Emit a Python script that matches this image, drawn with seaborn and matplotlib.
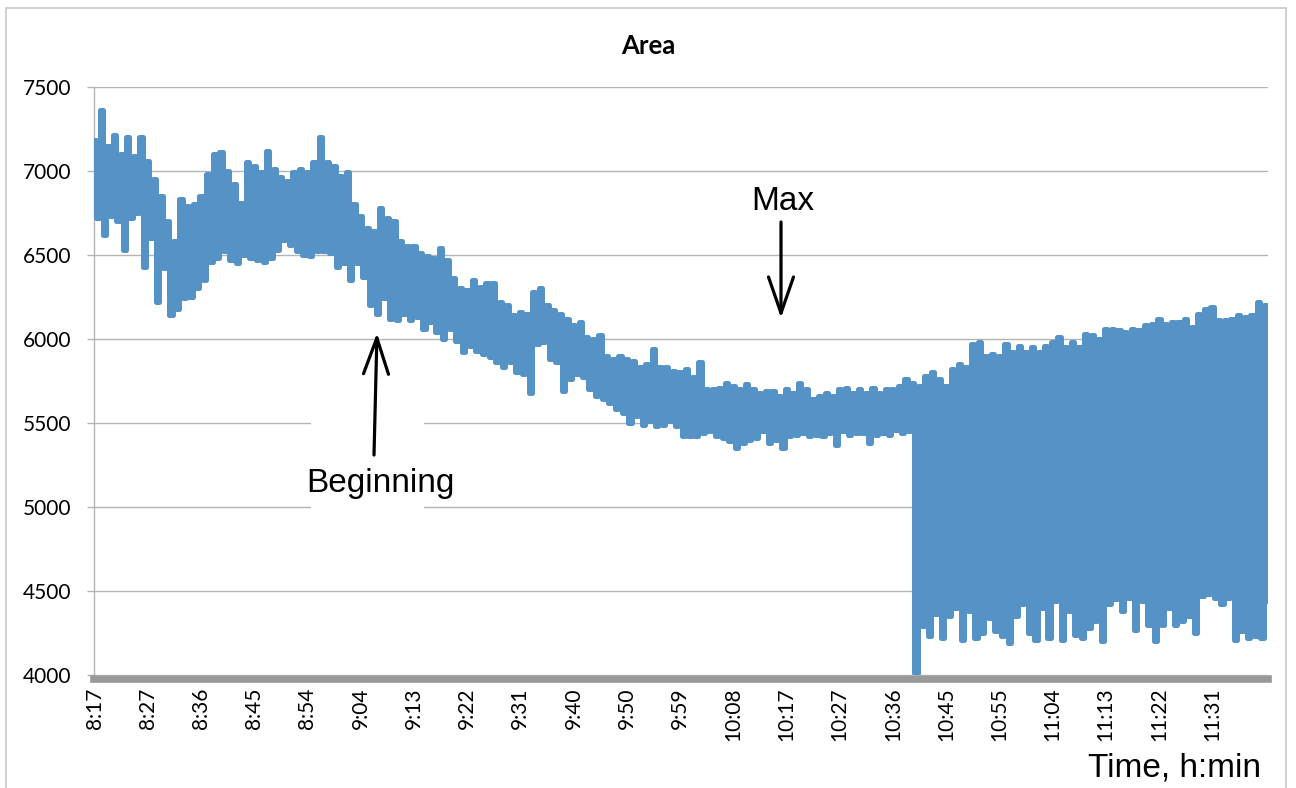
import numpy as np
import pandas as pd
import matplotlib.pyplot as plt
import seaborn as sns
from matplotlib.patches import Rectangle

# tick labels along the category axis (one every ~9 min)
tick_labels = ['8:17', '8:27', '8:36', '8:45', '8:54', '9:04', '9:13', '9:22', '9:31', '9:40', '9:50',
               '9:59', '10:08', '10:17', '10:27', '10:36', '10:45', '10:55', '11:04', '11:13', '11:22', '11:31']
samples_per_label = 8

# upper peaks of the oscillating signal
area_high = [7180, 7360, 7150, 7210, 7100, 7200, 7090, 7200,
             7060, 6950, 6850, 6700, 6580, 6830, 6790, 6800,
             6850, 6980, 7100, 7110, 7000, 6920, 6810, 7050,
             7030, 6990, 7120, 7010, 6960, 6940, 6990, 7010,
             6990, 7050, 7200, 7050, 7030, 6970, 6990, 6800,
             6730, 6660, 6640, 6780, 6720, 6700, 6580, 6550,
             6550, 6510, 6490, 6480, 6540, 6470, 6360, 6300,
             6290, 6350, 6310, 6330, 6330, 6220, 6200, 6140,
             6160, 6150, 6280, 6300, 6200, 6170, 6150, 6120,
             6080, 6100, 6010, 6000, 6020, 5900, 5880, 5900,
             5880, 5870, 5830, 5850, 5940, 5830, 5830, 5810,
             5800, 5820, 5770, 5860, 5700, 5700, 5710, 5740,
             5720, 5700, 5730, 5700, 5680, 5690, 5690, 5660,
             5700, 5680, 5740, 5700, 5640, 5660, 5680, 5660,
             5700, 5710, 5680, 5700, 5680, 5710, 5680, 5700,
             5700, 5720, 5760, 5740, 5720, 5780, 5800, 5760,
             5720, 5820, 5850, 5830, 5970, 5980, 5900, 5910,
             5900, 5970, 5920, 5960, 5920, 5950, 5920, 5960,
             5980, 6010, 5950, 5980, 5950, 6030, 6020, 6000,
             6060, 6060, 6050, 6040, 6060, 6050, 6080, 6090,
             6120, 6090, 6100, 6100, 6120, 6070, 6150, 6180,
             6190, 6110, 6110, 6120, 6140, 6130, 6140, 6220, 6200]

# lower troughs of the signal
area_low = [6720, 6620, 6730, 6700, 6530, 6720, 6750, 6430,
            6600, 6220, 6420, 6140, 6180, 6240, 6250, 6300,
            6350, 6460, 6480, 6520, 6470, 6450, 6500, 6480,
            6470, 6460, 6480, 6530, 6590, 6560, 6520, 6500,
            6490, 6520, 6520, 6510, 6430, 6450, 6350, 6450,
            6370, 6200, 6150, 6240, 6120, 6110, 6150, 6110,
            6130, 6060, 6100, 6040, 6000, 6060, 5990, 5920,
            5960, 5930, 5910, 5890, 5860, 5830, 5860, 5800,
            5790, 5680, 5970, 5980, 5880, 5860, 5690, 5760,
            5790, 5770, 5700, 5660, 5640, 5620, 5580, 5560,
            5500, 5540, 5490, 5510, 5480, 5490, 5510, 5480,
            5420, 5420, 5420, 5440, 5450, 5420, 5410, 5390,
            5350, 5380, 5400, 5410, 5450, 5380, 5400, 5350,
            5420, 5430, 5440, 5420, 5430, 5420, 5440, 5370,
            5450, 5430, 5440, 5440, 5380, 5430, 5440, 5430,
            5460, 5440, 5450, 4010, 4290, 4230, 4360, 4220,
            4350, 4400, 4210, 4380, 4220, 4250, 4340, 4260,
            4230, 4190, 4350, 4420, 4250, 4210, 4400, 4220,
            4440, 4210, 4380, 4240, 4220, 4280, 4320, 4200,
            4420, 4450, 4380, 4460, 4270, 4440, 4300, 4200,
            4300, 4400, 4300, 4320, 4350, 4250, 4470, 4480,
            4460, 4420, 4460, 4210, 4260, 4220, 4230, 4220, 4440]

# interleave peaks and troughs into one series
n = len(area_high)
t_high = np.arange(n) / samples_per_label
t_low = t_high + 0.5 / samples_per_label
df = pd.DataFrame({'t': np.column_stack([t_high, t_low]).ravel(),
                   'area': np.column_stack([area_high, area_low]).ravel()})

W, H = 1296, 788
blue = '#5592c6'
sns.set_style('white')
plt.rcParams['font.family'] = ['Lato', 'DejaVu Sans']
plt.rcParams['text.color'] = 'black'

fig = plt.figure(figsize=(W / 100, H / 100), dpi=100)
ax = fig.add_axes([93.5 / W, 1 - 675 / H, (1268 - 93.5) / W, (675 - 86.7) / H])

# steps keep the dense trace solid, like the thousands of samples in the original
sns.lineplot(data=df, x='t', y='area', ax=ax, color=blue, linewidth=3.6,
             estimator=None, sort=False, drawstyle='steps-mid', zorder=3)
ax.lines[0].set_solid_joinstyle('round')
ax.lines[0].set_solid_capstyle('round')

ax.set_ylim(4000, 7500)
ax.set_yticks(range(4000, 7501, 500))
ax.set_xlim(-0.02, 22.05)
ax.set_xticks(np.arange(len(tick_labels)))
ax.set_xticklabels(tick_labels)
ax.set_xlabel('')
ax.set_ylabel('')

ax.grid(axis='y', color='#b4b4b4', lw=1.0)
ax.grid(axis='x', visible=False)
ax.set_axisbelow(True)
sns.despine(ax=ax)
ax.spines['left'].set_color('#b4b4b4')
ax.spines['left'].set_linewidth(1.0)
ax.spines['bottom'].set_color('#999999')
ax.spines['bottom'].set_linewidth(5.5)
ax.spines['bottom'].set_position(('outward', 3))
ax.tick_params(axis='y', length=5, width=1.0, color='#b4b4b4', pad=11, labelsize=15,
               labelcolor='black', left=True)
ax.tick_params(axis='x', length=0, pad=6, labelsize=15, labelcolor='black', labelrotation=90)

fig.text(648 / W, 1 - 46 / H, 'Area', ha='center', va='center', fontweight='bold', fontsize=18.5)

# white patch behind the "Beginning" note
ax.add_patch(Rectangle((311 / W, 1 - 512 / H), (424 - 311) / W, (512 - 395) / H,
                       transform=fig.transFigure, facecolor='white', edgecolor='none',
                       zorder=2, clip_on=False))

note_font = dict(family=['Liberation Sans', 'DejaVu Sans'], fontsize=24, color='black')
fig.text(783 / W, 1 - 201 / H, 'Max', ha='center', va='center', **note_font)
fig.text(380 / W, 1 - 484 / H, 'Beginning', ha='center', va='center', zorder=5, **note_font)
fig.text(1175 / W, 1 - 768 / H, 'Time, h:min', ha='center', va='center', **note_font)

arrow = dict(arrowstyle='->,head_length=26,head_width=9', lw=2.3, color='black',
             mutation_scale=1, shrinkA=0, shrinkB=0)
ax.annotate('', xy=(781, H - 318), xytext=(781, H - 222), xycoords='figure pixels',
            textcoords='figure pixels', arrowprops=arrow, zorder=6)
ax.annotate('', xy=(377, H - 333), xytext=(374, H - 455), xycoords='figure pixels',
            textcoords='figure pixels', arrowprops=arrow, zorder=6)

# light frame around the chart
fig.patches.append(Rectangle((6 / W, -0.05), 1280 / W, 1.05 - 8 / H, transform=fig.transFigure,
                             facecolor='none', edgecolor='#c8c8c8', lw=1.2))

fig.savefig('out.png', dpi=100)
